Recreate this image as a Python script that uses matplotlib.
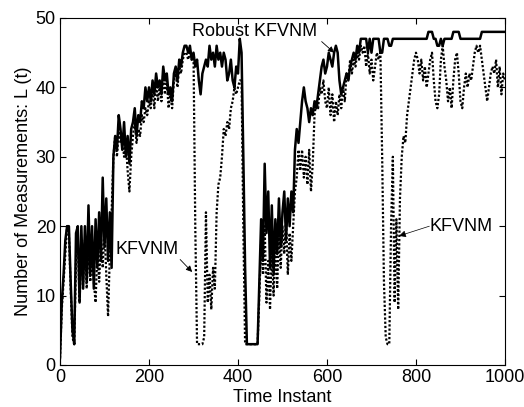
import numpy as np
import matplotlib
matplotlib.use("Agg")
import matplotlib.pyplot as plt

plt.rcParams['font.family'] = ['Liberation Sans', 'DejaVu Sans']

# time instants (sampled every 4 steps)
time = np.arange(0, 1001, 4)

robust_kfvnm = [
    1, 9, 13, 18, 20, 20, 12, 5, 3, 19, 20, 9, 20, 11, 20, 12, 23, 13, 20, 11, 21, 14, 22, 15, 27,
    17, 24, 15, 22, 14, 30, 33, 31, 36, 34, 31, 35, 30, 33, 29, 34, 35, 37, 33, 36, 35, 38, 37, 40, 38,
    40, 38, 41, 39, 42, 40, 41, 39, 43, 41, 42, 39, 40, 38, 42, 43, 41, 44, 43, 45, 46, 46, 45, 46, 44,
    45, 43, 44, 41, 39, 42, 43, 44, 43, 46, 44, 45, 43, 46, 44, 45, 43, 45, 44, 41, 42, 44, 41, 40, 43,
    42, 47, 45, 30, 14, 3, 3, 3, 3, 3, 3, 3, 12, 21, 15, 29, 19, 25, 14, 23, 13, 21, 16, 24, 17,
    22, 25, 18, 24, 20, 25, 22, 31, 34, 32, 35, 38, 40, 38, 37, 35, 37, 36, 38, 37, 39, 41, 43, 44, 42,
    43, 45, 44, 43, 45, 46, 45, 41, 39, 40, 41, 42, 41, 43, 44, 45, 44, 46, 45, 47, 47, 47, 47, 45, 47,
    45, 47, 47, 47, 47, 45, 45, 47, 47, 47, 46, 46, 47, 47, 47, 47, 47, 47, 47, 47, 47, 47, 47, 47, 47,
    47, 47, 47, 47, 47, 47, 47, 48, 48, 48, 47, 47, 46, 46, 47, 46, 47, 47, 47, 47, 47, 48, 48, 48, 48,
    47, 47, 47, 47, 47, 47, 47, 47, 47, 47, 47, 47, 48, 48, 48, 48, 48, 48, 48, 48, 48, 48, 48, 48, 48,
    48,
]

kfvnm = [
    1, 8, 12, 16, 20, 19, 11, 4, 3, 15, 18, 9, 17, 12, 18, 11, 17, 12, 16, 12, 9, 17, 12, 18, 14,
    20, 13, 7, 16, 22, 30, 33, 30, 34, 32, 33, 30, 32, 28, 25, 30, 33, 35, 32, 34, 33, 36, 35, 37, 36,
    38, 37, 40, 37, 41, 38, 40, 38, 42, 39, 41, 37, 39, 37, 41, 42, 40, 43, 42, 44, 45, 45, 44, 45, 44,
    45, 20, 3, 3, 3, 3, 4, 22, 9, 13, 8, 14, 11, 22, 26, 27, 30, 34, 33, 35, 34, 37, 38, 40, 39,
    40, 41, 41, 20, 3, 3, 3, 3, 3, 3, 3, 3, 10, 18, 13, 20, 9, 15, 8, 17, 10, 18, 11, 19, 14,
    20, 16, 21, 13, 19, 15, 20, 25, 27, 31, 28, 31, 27, 30, 26, 31, 25, 29, 36, 38, 37, 40, 39, 41, 38,
    37, 40, 36, 39, 35, 38, 36, 39, 37, 40, 38, 42, 41, 44, 42, 44, 43, 45, 44, 46, 45, 46, 43, 45, 42,
    44, 41, 43, 45, 44, 45, 30, 12, 4, 3, 3, 20, 30, 9, 21, 8, 24, 30, 33, 32, 36, 38, 40, 42, 44,
    45, 44, 42, 44, 41, 43, 40, 42, 44, 45, 41, 38, 37, 39, 44, 46, 43, 41, 38, 40, 37, 41, 44, 45, 42,
    38, 37, 40, 42, 40, 42, 41, 43, 45, 46, 45, 46, 44, 42, 40, 38, 40, 42, 43, 42, 44, 40, 43, 39, 42,
    41,
]

x_ticks = [0, 200, 400, 600, 800, 1000]
y_ticks = [0, 10, 20, 30, 40, 50]

fig = plt.figure(figsize=(5.24, 4.07), dpi=100)
ax = fig.add_axes([0.1145, 0.1032, 0.8492, 0.8526])

ax.plot(time, robust_kfvnm, color='black', lw=1.8, linestyle='-')
ax.plot(time, kfvnm, color='black', lw=1.6, linestyle=(0, (1, 0.9)))

ax.set_xlim(0, 1000)
ax.set_ylim(0, 50)
ax.set_xticks(x_ticks)
ax.set_yticks(y_ticks)
ax.tick_params(direction='in', top=True, right=True, length=4, width=0.8,
               labelsize=13, pad=3)
for s in ax.spines.values():
    s.set_linewidth(0.8)

ax.set_xlabel('Time Instant', fontsize=13, labelpad=2)
ax.set_ylabel('Number of Measurements: L (t)', fontsize=13, labelpad=3)

arrow_kw = dict(arrowstyle='-|>', color='black', lw=0.6,
                mutation_scale=9, shrinkA=0, shrinkB=0)

ax.text(297, 48.1, 'Robust KFVNM', fontsize=13, va='center', ha='left')
ax.annotate('', xy=(616, 45.0), xytext=(588, 46.6), arrowprops=arrow_kw)

ax.text(124, 16.6, 'KFVNM', fontsize=13, va='center', ha='left')
ax.annotate('', xy=(297, 13.4), xytext=(270, 15.2), arrowprops=arrow_kw)

ax.text(831, 20.0, 'KFVNM', fontsize=13, va='center', ha='left')
ax.annotate('', xy=(762, 18.6), xytext=(830, 20.0),
            arrowprops=dict(arrowstyle='-|>', color='black', lw=0.5,
                            mutation_scale=10, shrinkA=0, shrinkB=0))

fig.savefig('out.png', dpi=100)
